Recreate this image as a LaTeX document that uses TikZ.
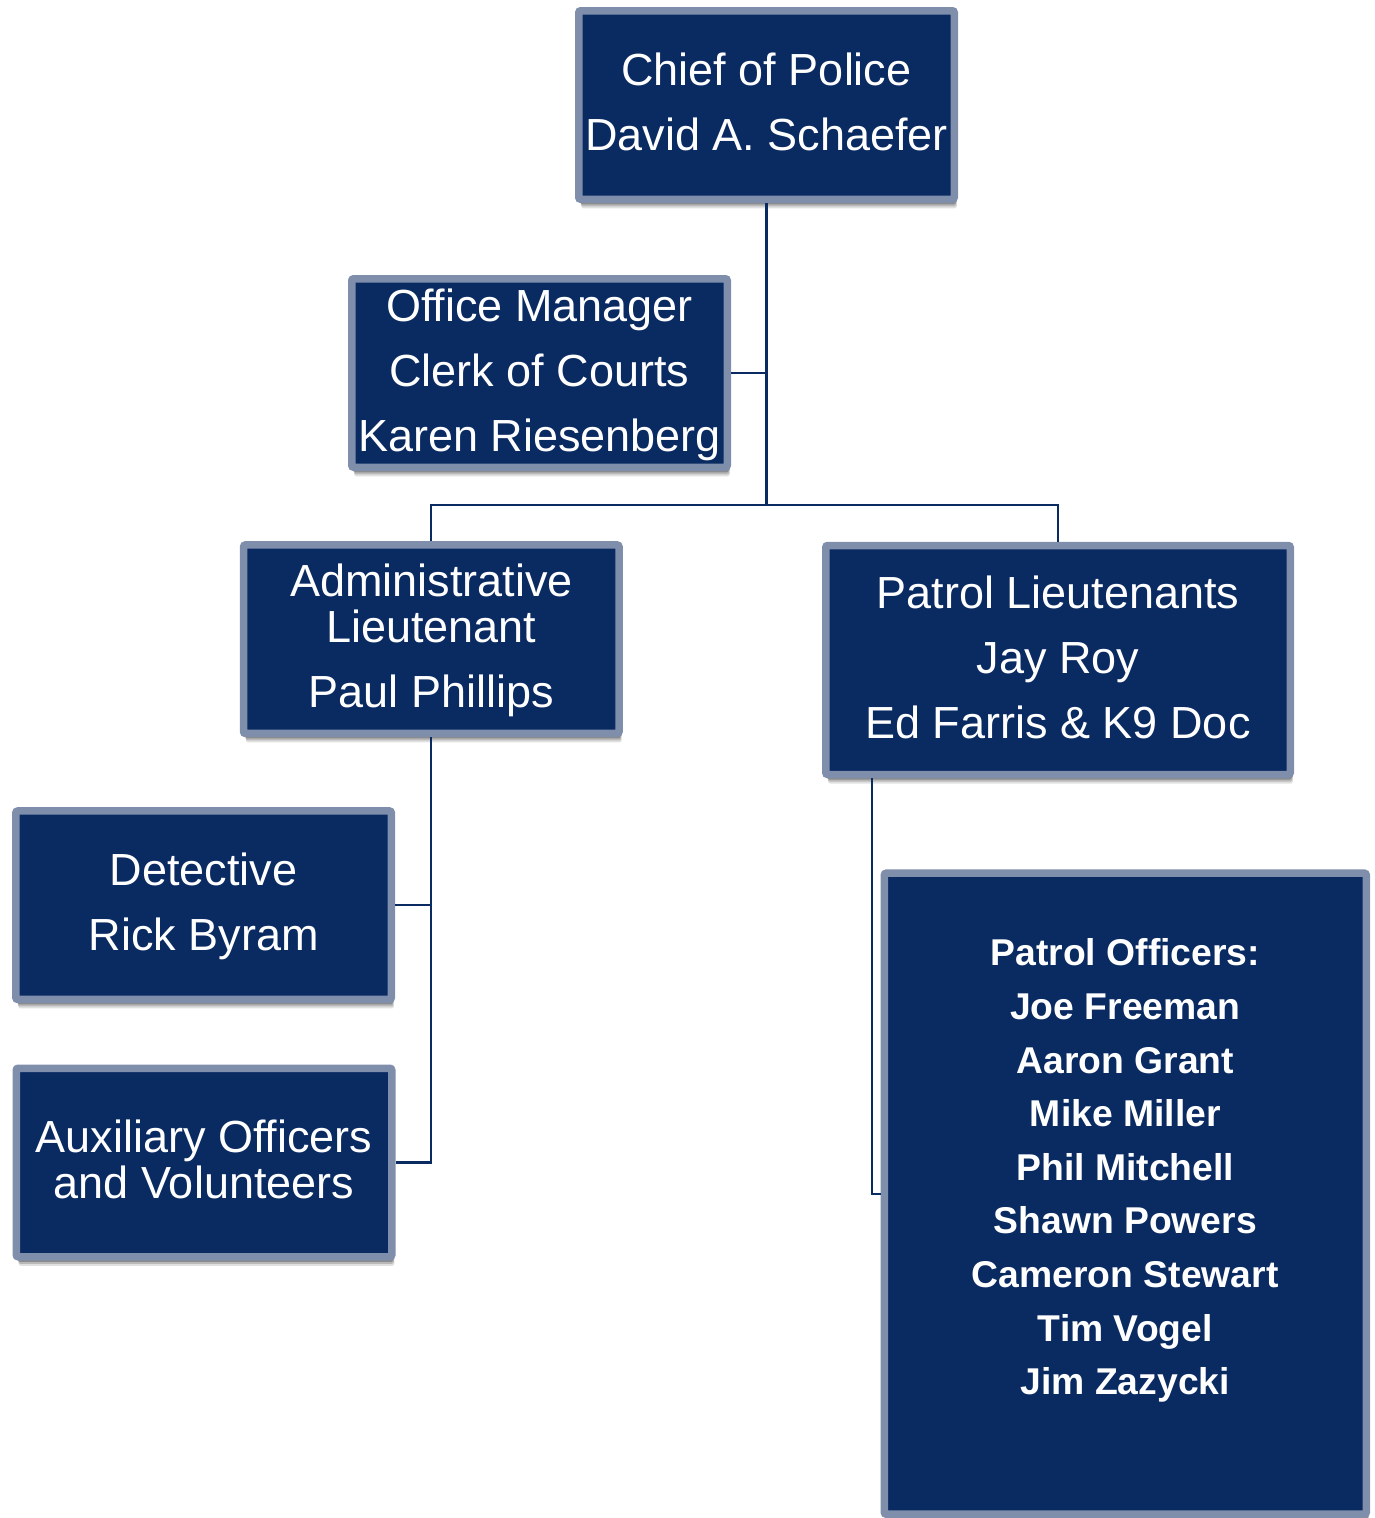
\documentclass[tikz,border=0pt]{standalone}
\usepackage{fontspec}
\setmainfont{Liberation Sans}
\usetikzlibrary{shadows}
\definecolor{navy}{RGB}{10,42,98}
\definecolor{rim}{RGB}{127,143,171}
\newcommand\topS{\rule{0pt}{36pt}}
\newcommand\botS{\rule[-10pt]{0pt}{10pt}}
\begin{document}
\begin{tikzpicture}[x=1pt,y=-1pt,
  orgbox/.style={rectangle, draw=rim, fill=navy, line width=7.5pt, rounded corners=2pt,
    text=white, align=center, inner sep=0pt,
    minimum width=375.5pt, minimum height=188.5pt,
    font=\fontsize{45}{65}\selectfont,
    general shadow={shadow xshift=2.5pt, shadow yshift=-9pt, opacity=0.12, fill=black},
    general shadow={shadow xshift=2pt, shadow yshift=-7pt, opacity=0.18, fill=black},
    general shadow={shadow xshift=1.5pt, shadow yshift=-5pt, opacity=0.25, fill=black}},
  link/.style={draw=navy, line width=2.2pt}]
\useasboundingbox (0,0) rectangle (1374,1518);

\node[orgbox] (chief) at (766.5,105) {\topS Chief of Police\\David A. Schaefer\botS};
\node[orgbox] (office) at (539.5,373) {\topS Office Manager\\Clerk of Courts\\Karen Riesenberg\botS};
\node[orgbox] (admin) at (431.3,639.2) {\topS Administrative\\[-18.5pt]Lieutenant\\Paul Phillips\botS};
\node[orgbox, minimum width=464.5pt, minimum height=229pt] (plt) at (1058,660)
  {\topS Patrol Lieutenants\\Jay Roy\\Ed Farris \& K9 Doc\botS};
\node[orgbox] (det) at (203.6,905.2) {\topS Detective\\Rick Byram\botS};
\node[orgbox] (aux) at (204,1162.5) {\topS Auxiliary Officers\\[-18.3pt]and Volunteers\botS};
\node[orgbox, minimum width=482pt, minimum height=641pt,
  font=\fontsize{37.3}{53.6}\selectfont\bfseries] (plo) at (1125.3,1193.7)
  {\rule{0pt}{30pt}Patrol Officers:\\Joe Freeman\\Aaron Grant\\Mike Miller\\Phil Mitchell\\Shawn Powers\\Cameron Stewart\\Tim Vogel\\Jim Zazycki\rule[-57pt]{0pt}{57pt}};

\coordinate (j) at (766.5,505);
\coordinate (pltdrop) at ([xshift=50pt]plt.south west);
\draw[link] (chief.south) -- (j);
\draw[link] (office.east) -- (office.east -| j);
\draw[link] (admin.north) |- (j) -| (plt.north);
\draw[link] (admin.south) |- (aux.east);
\draw[link] (det.east) -- (det.east -| admin.south);
\draw[link] (pltdrop) |- (plo.west);
\end{tikzpicture}
\end{document}
